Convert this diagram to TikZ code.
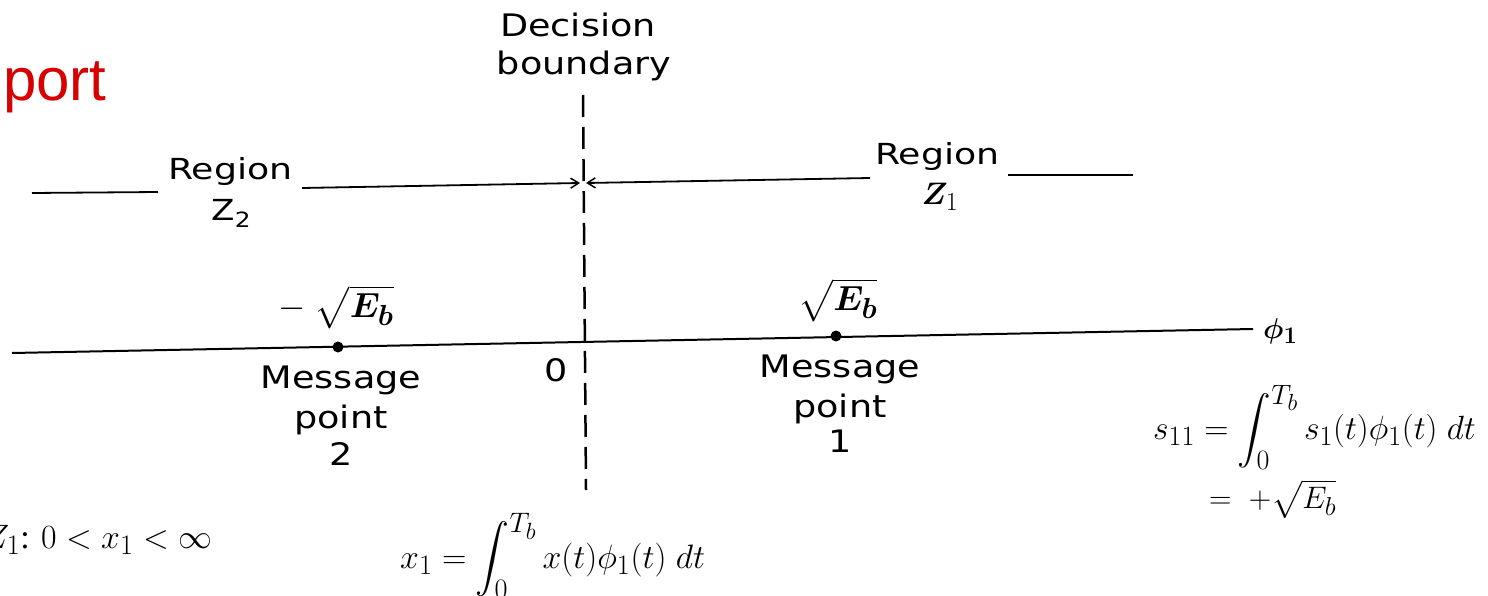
\documentclass[tikz,border=0pt]{standalone}
\usepackage{amsmath}
\usepackage{bm}
\usepackage{fontspec}
\setmainfont{Liberation Serif}
\newfontfamily\portfont{Liberation Sans}
\newfontfamily\labelfont[FakeStretch=1.18]{DejaVu Sans}
\newfontfamily\regionfont[FakeStretch=1.25]{DejaVu Sans}
\usetikzlibrary{arrows.meta}
\definecolor{titlered}{RGB}{214,0,0}
\tikzset{
  lbl/.style={inner sep=0pt, anchor=base, font=\labelfont\fontsize{31}{40}\selectfont},
  reg/.style={inner sep=0pt, font=\regionfont\fontsize{29}{36}\selectfont},
  mlbl/.style={inner sep=0pt, font=\fontsize{24.88}{30}\selectfont},
  eqn/.style={inner sep=0pt, anchor=base west, font=\fontsize{24.88}{30}\selectfont},
  axisline/.style={line width=2pt},
  regline/.style={line width=1.8pt},
  arr/.style={-{Straight Barb[length=8pt,width=10pt,line width=1.5pt]}},
  boundary/.style={line width=2.5pt, dash pattern=on 22pt off 10pt},
  dot/.style={circle, fill=black, inner sep=0pt, minimum size=11pt}
}
\begin{document}
\begin{tikzpicture}[x=1pt,y=-1pt]
\useasboundingbox (0,0) rectangle (1488,596);
\clip (0,0) rectangle (1488,596);
\fill[white] (0,0) rectangle (1488,596);

% title fragment
\node[inner sep=0pt, anchor=base west, text=titlered, font=\portfont\fontsize{60}{70}\selectfont] (title) at (3,101) {port};

% decision boundary
\node[lbl] (db1) at (578,37) {Decision};
\node[lbl] (db2) at (584,75) {boundary};
\coordinate (dbtop) at (583,95);
\coordinate (dbbot) at (586,490);
\draw[boundary] (dbtop) -- (dbbot);

% Region Z2 (left)
\node[reg, anchor=base west] (r2) at (168,180) {Region};
\node[inner sep=0pt, anchor=base, font=\labelfont\fontsize{29}{36}\selectfont] (z2) at (231,220) {Z\raisebox{-7pt}{\fontsize{21}{21}\selectfont 2}};
\coordinate (l2a) at (32,193);
\coordinate (l2b) at (158,192);
\draw[regline] (l2a) -- (l2b);
\coordinate (l2c) at (302,188);
\coordinate (l2d) at (580,183);
\draw[regline, arr] (l2c) -- (l2d);

% Region Z1 (right)
\node[reg, anchor=base west] (r1) at (875,165) {Region};
\node[mlbl, anchor=base] (z1) at (940,205) {\scalebox{1.25}{$\bm{Z}_{1}$}};
\coordinate (l1a) at (870,178);
\coordinate (l1d) at (586,183);
\draw[regline, arr] (l1a) -- (l1d);
\coordinate (l1b) at (1008,175);
\coordinate (l1c) at (1133,175);
\draw[regline] (l1b) -- (l1c);

% phi1 axis
\coordinate (axL) at (12,353);
\coordinate (axR) at (1253,329);
\draw[axisline] (axL) -- (axR);
\node[mlbl, anchor=west] (phi) at (1263,331) {\scalebox{1.15}{$\bm{\phi}_{\bm{1}}$}};

% message points
\node[dot] (m2) at (338,347) {};
\node[dot] (m1) at (836,336) {};
\node[mlbl, anchor=base] (m2v) at (336,317) {\scalebox{1.4}{$-\;\sqrt{\bm{E}_{\bm{b}}}$}};
\node[mlbl, anchor=base] (m1v) at (838,310) {\scalebox{1.4}{$\sqrt{\bm{E}_{\bm{b}}}$}};
\node[lbl] (m2l1) at (341,388) {Message};
\node[lbl] (m2l2) at (341,428) {point};
\node[lbl] (m2l3) at (341,465) {2};
\node[lbl] (m1l1) at (840,377) {Message};
\node[lbl] (m1l2) at (840,417) {point};
\node[lbl] (m1l3) at (840,452) {1};
\node[lbl] (orig) at (556,381) {0};

% equations
\node[eqn] (s11) at (1153,439) {\scalebox{1.35}{$s_{11} = \displaystyle\int_0^{T_b} s_1(t)\phi_1(t)\;dt$}};
\node[eqn] (s11b) at (1209,508) {\scalebox{1.25}{$=\; +\sqrt{E_b}$}};
\node[eqn] (x1) at (400,568) {\scalebox{1.36}{$x_1 = \displaystyle\int_0^{T_b} x(t)\phi_1(t)\;dt$}};
\node[eqn] (z1r) at (-16,548) {\scalebox{1.36}{$Z_1$: $0 < x_1 < \infty$}};
\end{tikzpicture}
\end{document}
